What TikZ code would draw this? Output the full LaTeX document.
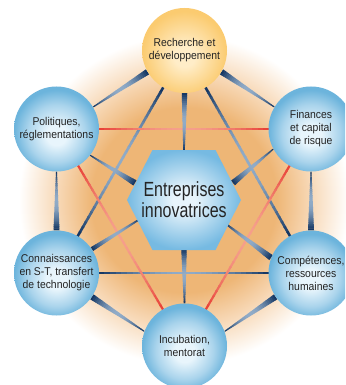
\documentclass[tikz,border=0pt]{standalone}
\usepackage{fontspec}
\setmainfont{Liberation Sans}
\newfontfamily\smallfnt{Liberation Sans}[FakeStretch=0.92]
\newfontfamily\bigfnt{Liberation Sans}[FakeStretch=0.78]
\usetikzlibrary{calc}
\pgfdeclarelayer{glowlayer}
\pgfdeclarelayer{linelayer}
\pgfsetlayers{glowlayer,linelayer,main}

\definecolor{blueout}{RGB}{108,180,220}
\definecolor{bluemid}{RGB}{170,212,236}
\definecolor{bluein}{RGB}{232,245,252}
\definecolor{orout}{RGB}{251,203,112}
\definecolor{orin}{RGB}{255,237,200}
\definecolor{hexout}{RGB}{118,186,226}
\definecolor{hexin}{RGB}{232,244,251}
\definecolor{glowA}{RGB}{238,182,118}
\definecolor{glowB}{RGB}{247,215,180}
\definecolor{navy}{RGB}{16,50,95}
\definecolor{steel}{RGB}{145,172,200}
\definecolor{redA}{RGB}{232,62,52}
\definecolor{redB}{RGB}{246,160,140}
\definecolor{txt}{RGB}{35,35,35}

\pgfdeclareradialshading{ballblue}{\pgfpoint{0bp}{-4bp}}{color(0bp)=(bluein); color(6bp)=(bluein); color(17bp)=(bluemid); color(25bp)=(blueout); color(50bp)=(blueout)}
\pgfdeclareradialshading{ballorange}{\pgfpoint{0bp}{-4bp}}{color(0bp)=(orin); color(6bp)=(orin); color(25bp)=(orout); color(50bp)=(orout)}
\pgfdeclareradialshading{hexshade}{\pgfpoint{0bp}{0bp}}{color(0bp)=(hexin); color(5bp)=(hexin); color(25bp)=(hexout); color(50bp)=(hexout)}
\pgfdeclareradialshading{glowshade}{\pgfpoint{0bp}{0bp}}{color(0bp)=(glowA); color(14bp)=(glowA); color(19bp)=(glowB); color(25bp)=(white); color(50bp)=(white)}

% tapered, colour-graded connector from #1 to #2, widths #3 and #4, end colour #5, middle colour #6
\newcommand\conn[6]{%
  \path let \p1=(#1), \p2=(#2), \n1={atan2(\y2-\y1,\x2-\x1)}, \n2={veclen(\x2-\x1,\y2-\y1)} in
    \pgfextra{\xdef\cA{\n1}\xdef\cL{\n2}\xdef\cX{\x1}\xdef\cY{\y1}};
  \begin{scope}[shift={(\cX,\cY)}, rotate=\cA]
    \foreach \i in {0,...,29}{
      \pgfmathsetmacro\ta{\i/30}
      \pgfmathsetmacro\tb{min(1,(\i+1.2)/30)}
      \pgfmathsetmacro\xa{\ta*\cL}
      \pgfmathsetmacro\xb{\tb*\cL}
      \pgfmathsetmacro\wa{(#3+(#4-#3)*\ta)/2}
      \pgfmathsetmacro\wb{(#3+(#4-#3)*\tb)/2}
      \pgfmathtruncatemacro\pc{100*sin(180*(\i+0.5)/30)}
      \fill[{#6!\pc!#5}] (\xa pt,-\wa pt) -- (\xb pt,-\wb pt) -- (\xb pt,\wb pt) -- (\xa pt,\wa pt) -- cycle;
    }
  \end{scope}
}

\begin{document}
\begin{tikzpicture}[x=1pt,y=-1pt,
  bubble/.style={circle, minimum size=85pt, inner sep=0pt, shade, shading=ballblue,
    text=txt, font=\fontsize{11.3}{13}\selectfont\smallfnt, align=center},
  orbubble/.style={bubble, shading=ballorange},
  centretext/.style={inner sep=0pt, text=txt, font=\fontsize{20.5}{21}\selectfont\bigfnt, align=center}]
\useasboundingbox (0,0) rectangle (345,385);
\clip (0,0) rectangle (345,385);

\begin{pgfonlayer}{glowlayer}
  \fill[white] (0,0) rectangle (345,385);
  \shade[shading=glowshade] (184,200) circle (165pt);
\end{pgfonlayer}

\shade[shading=hexshade] (127,200) -- (152.5,150) -- (215.5,150) -- (241,200) -- (215.5,250) -- (152.5,250) -- cycle;
\node[centretext] (hex) at (184,200) {Entreprises\\innovatrices};

\node[orbubble] (rd)  at (184.5,50.5) {Recherche et\\développement};
\node[bubble]   (pol) at (56.5,129)   {Politiques,\\réglementations};
\node[bubble]   (fin) at (311,129)    {Finances\\et capital\\de risque};
\node[bubble]   (con) at (56.5,273)   {Connaissances\\en S-T, transfert\\de technologie};
\node[bubble]   (com) at (311,273)    {Compétences,\\ressources\\humaines};
\node[bubble]   (inc) at (184.5,346)  {Incubation,\\mentorat};

\begin{pgfonlayer}{linelayer}
  % long cross lines
  \conn{$(rd)!42pt!(con)$}{$(con)!42pt!(rd)$}{2.6}{2.6}{navy}{steel}
  \conn{$(rd)!42pt!(com)$}{$(com)!42pt!(rd)$}{2.6}{2.6}{navy}{steel}
  \conn{$(con)!42pt!(com)$}{$(com)!42pt!(con)$}{2.6}{2.6}{navy}{steel}
  \conn{$(pol)!42pt!(fin)$}{$(fin)!42pt!(pol)$}{2.2}{2.2}{redA}{redB}
  \conn{$(pol)!42pt!(inc)$}{$(inc)!42pt!(pol)$}{2.2}{2.2}{redA}{redB}
  \conn{$(fin)!42pt!(inc)$}{$(inc)!42pt!(fin)$}{2.2}{2.2}{redA}{redB}
  % outer ring
  \conn{rd.210}{pol.31}{6}{1}{navy}{steel}
  \conn{rd.-30}{fin.149}{6}{1}{navy}{steel}
  \conn{pol.-90}{con.90}{1}{6}{navy}{steel}
  \conn{fin.-90}{com.90}{1}{6}{navy}{steel}
  \conn{con.-34}{inc.160}{6}{1}{navy}{steel}
  \conn{com.214}{inc.20}{6}{1}{navy}{steel}
  % spokes to the centre
  \conn{rd.-90}{$(hex)+(0,-49)$}{5.5}{1.5}{navy}{steel}
  \conn{pol.-38}{$(hex)+(-49,-17)$}{1}{6}{navy}{steel}
  \conn{fin.208}{$(hex)+(49,-17)$}{1}{6}{navy}{steel}
  \conn{con.34}{$(hex)+(-44,19)$}{4.5}{1.5}{navy}{steel}
  \conn{$(hex)+(42,24)$}{com.159}{1.5}{6}{navy}{steel}
  \conn{$(hex)+(0,49)$}{inc.90}{5.5}{1.5}{navy}{steel}
\end{pgfonlayer}
\end{tikzpicture}
\end{document}
